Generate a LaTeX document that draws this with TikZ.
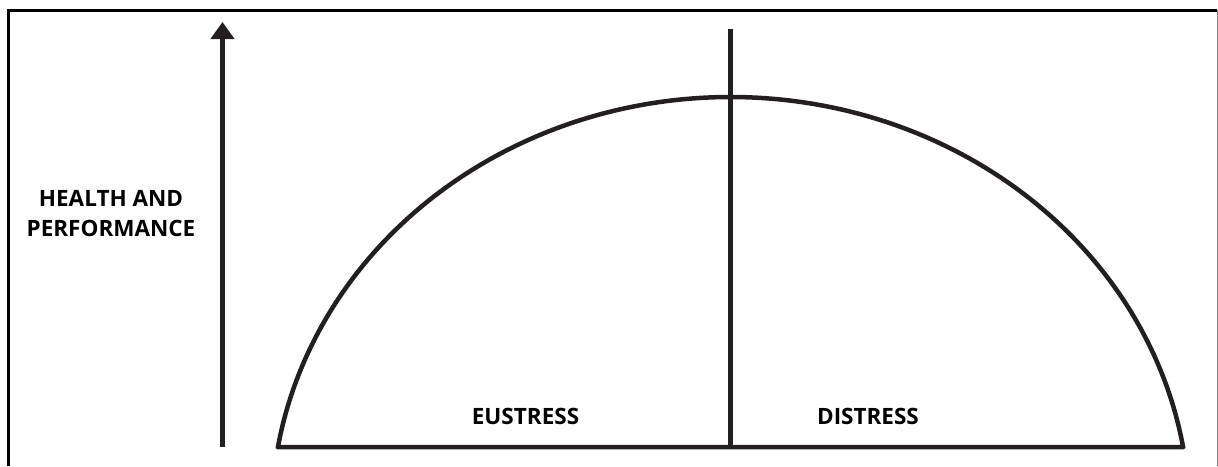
\documentclass[tikz,border=0pt]{standalone}
\usepackage{fontspec}
\setmainfont{Open Sans}
\usetikzlibrary{arrows.meta}
\definecolor{ink}{HTML}{231F20}
\begin{document}
\begin{tikzpicture}[x=1pt,y=-1pt,
  curveline/.style={draw=ink,line width=4.5pt},
  label/.style={font=\fontsize{22.5}{30}\selectfont\bfseries,text=black,inner sep=0pt,anchor=base}]
\useasboundingbox (0,0) rectangle (1218,466);
% frame
\draw[black,line width=3pt] (8.5,466) -- (8.5,10.5) -- (1217,10.5);
\draw[black!50,line width=1pt] (1217.5,10) -- (1217.5,466);
% coordinates
\coordinate (bl) at (278,447);
\coordinate (br) at (1183,447);
\coordinate (mb) at (730.5,447);
\coordinate (mt) at (730.5,29);
\coordinate (ab) at (222.5,447);
\coordinate (at) at (222.5,22);
% axis arrow
\draw[ink,line width=5pt,-{Triangle[width=23pt,length=17pt]}] (ab) -- (at);
% curve
\draw[curveline,line join=miter] (bl) -- (br)
  -- plot[domain=9.6:170.4,samples=120,smooth] ({730.5+459*cos(\x)},{517-420*sin(\x)}) -- cycle;
% divider
\draw[curveline] (mb) -- (mt);
% labels
\node[label,align=center] (hp) at (111,236) {HEALTH AND\\PERFORMANCE};
\node[label] (eu) at (525.5,424) {EUSTRESS};
\node[label] (di) at (868,424) {DISTRESS};
\end{tikzpicture}
\end{document}
